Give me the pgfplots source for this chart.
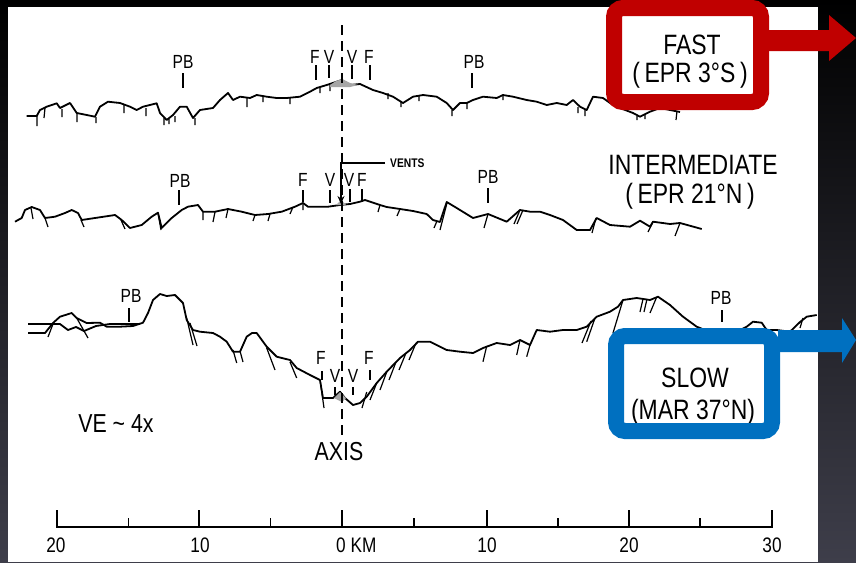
\documentclass[border=0pt]{standalone}
\usepackage{fontspec}
\setmainfont{Liberation Sans}[FakeStretch=0.82]
\usepackage{pgfplots}
\pgfplotsset{compat=1.18}
\usetikzlibrary{arrows.meta}
\definecolor{boxred}{RGB}{192,0,0}
\definecolor{boxblue}{RGB}{0,112,192}
\definecolor{bgmid}{RGB}{36,36,44}
\definecolor{bgbot}{RGB}{62,62,74}
\newcommand{\fs}[1]{\fontsize{#1}{#1}\selectfont}
\tikzset{lab/.style={font=\fs{19}, inner sep=0pt}, big/.style={font=\fs{28}, inner sep=0pt}}
\begin{document}
\begin{tikzpicture}
% background (dark slide) and white page
\shade[top color=black, middle color=bgmid, bottom color=bgbot] (0,0) rectangle (856pt,562pt);
\fill[white] (8pt,0) rectangle (818pt,555pt);
\begin{axis}[at={(0,0)}, anchor=south west, scale only axis, width=856pt, height=562pt,
  xmin=0, xmax=856, ymin=0, ymax=562, y dir=reverse, hide axis, clip=false,
  unbounded coords=jump,
  prof/.style={black, line width=1.8pt, no marks, line join=round},
  scarp/.style={black, line width=1.2pt, no marks},
  tick/.style={black, line width=1.3pt, no marks}]
% ---------------- FAST profile (EPR 3S) ----------------
\addplot[prof] coordinates {(26.7,116)(36.7,116)(40,110)(46.7,106.7)(56.7,103.3)(60,108)(70,103)(76.7,113)(86.7,115)(95,116.7)(100,106.7)(108,101.7)(120,103)(130,106.7)(136.7,110)(143,106.7)(156.7,103.3)(160,113)(166.7,120)(173,115)(180,106.7)(186.7,106.7)(193,118)(200,110)(213,108)(220,100)(228,93)(233,100)(240,96.7)(250,98)(256.7,95)(266.7,96.7)(276.7,98)(286.7,98)(300,96.7)(310,91.7)(316.7,88)(326.7,85)(336.7,81.7)(341.7,80)(350,85)(360,84)(373,90)(383,93)(393,96.7)(403,103)(413,96.7)(423,95)(436.7,96.7)(446.7,103)(453,110)(460,103)(466.7,103)(473,100)(483,96.7)(496.7,98)(503,95)(513,96.7)(526.7,100)(536.7,101.7)(546.7,105)(556.7,103)(566.7,105)(573,100)(580,106.7)(586.7,110)(593,96.7)(603,98)(610,103)(620,108)(633,113)(640,116.7)(650,111.7)(660,108)(670,110)(680,112)};
\addplot[scarp] coordinates {(37,116)(37,126)(37,nan)(45,108)(44,118)(44,nan)(62,109)(62,117)(62,nan)(77,113)(77,122)(77,nan)(96,117)(96,123)(96,nan)(124,104)(124,113)(124,nan)(146,108)(146,116)(146,nan)(164,118)(164,125)(164,nan)(169,119)(169,124)(169,nan)(175,116)(175,122)(175,nan)(195,118)(195,125)(195,nan)(247,98)(247,107)(247,nan)(263,97)(263,102)(263,nan)(290,98)(290,104)(290,nan)(320,87)(320,93)(320,nan)(330,85)(330,91)(330,nan)(388,93)(388,99)(388,nan)(401,101)(401,107)(401,nan)(419,96)(419,101)(419,nan)(452,110)(452,116)(452,nan)(467,103)(467,109)(467,nan)(503,95)(503,100)(503,nan)(578,107)(578,113)(578,nan)(585,110)(585,116)(585,nan)(637,116)(637,120)(637,nan)(645,114)(645,119)(645,nan)(677,111)(676,120)};
\addplot[fill=gray!70, draw=none] coordinates {(330,85)(336,81)(342,79)(350,83)(358,85)(350,87)(340,87)(330,87)} -- cycle;
% ---------------- INTERMEDIATE profile (EPR 21N) ----------------
\addplot[prof] coordinates {(15,221.7)(21.7,218)(25,210)(31.7,207)(40,210)(45,218)(55,216.7)(65,213)(71.7,210)(78,213)(81.7,220)(95,218)(115,215)(121.7,220)(130,228)(141.7,225)(151.7,216.7)(158,212.7)(161.7,228)(171.7,218)(181.7,210)(188,206.7)(198,205)(203,211.7)(215,211.7)(228,209)(241.7,211.7)(255,215)(268,214)(281.7,211.7)(295,206.7)(303,203)(308,206.7)(328,206.7)(340,205)(350,204)(360,201.7)(365,200)(380,205)(386.7,207)(400,209)(413,211)(426.7,214)(433,220)(440,222)(446.7,202)(456.7,208)(473,218)(488,214)(506.7,221.7)(520,210)(530,211.7)(540,211.7)(550,215)(563,220)(576.7,230)(590,230)(596.7,218)(610,225)(630,226.7)(640,220.7)(650,226.7)(653,221.7)(670,224)(680,223)(701.7,229)};
\addplot[scarp] coordinates {(31,208)(33,219)(33,nan)(45,218)(48,227)(48,nan)(81,220)(84,227)(84,nan)(121,220)(125,229)(125,nan)(158,213)(161,230)(161,nan)(203,212)(203,220)(203,nan)(215,212)(213,222)(213,nan)(228,209)(226,218)(226,nan)(255,215)(253,221)(253,nan)(270,214)(268,221)(268,nan)(293,207)(290,214)(290,nan)(303,203)(303,210)(303,nan)(380,205)(378,212)(378,nan)(400,209)(397,216)(397,nan)(437,221)(434,228)(434,nan)(447,203)(440,230)(440,nan)(488,214)(484,228)(484,nan)(520,210)(514,224)(514,nan)(523,210)(517,224)(517,nan)(596,218)(592,233)(592,nan)(653,222)(648,232)(648,nan)(680,223)(675,236)};
\addplot[fill=gray!70, draw=none] coordinates {(336,205)(341,200)(346,205)} -- cycle;
% ---------------- SLOW profile (MAR 37N) ----------------
\addplot[prof] coordinates {(28,333)(45,333)(53,323)(60,316.7)(71.7,313)(76.7,318)(86.7,323)(100,322.7)(106.7,326.7)(120,326.7)(133,326)(143,322.7)(148,313)(153,300)(160,294)(166.7,296)(175,295)(183,303)(186.7,320)(193,330)(200,331.7)(213,333)(220,336.7)(226.7,341.7)(233,351.7)(240,351.7)(246.7,336.7)(252,333)(256.7,333)(266.7,346.7)(276.7,356.7)(290,360)(296.7,368)(310,375)(320,380)(323,398)(333,398)(340,391.7)(345,398)(353,405)(360,403)(366.7,396.7)(376.7,383)(386.7,371.7)(400,358)(410,350)(418,341.7)(430,341.7)(440,346.7)(446.7,350)(460,351.7)(473,353)(483,348)(496.7,343)(510,345)(520,340)(530,345)(536.7,330)(550,331.7)(563,330)(576.7,330)(586.7,326.7)(596.7,316.7)(610,311.7)(618,306.7)(623,300)(636.7,298)(650,300)(658,296.7)(670,305)(683,316.7)(696.7,326.7)(710,332)(725,334)(740,330)(746.7,326.7)(753,321.7)(761.7,322.7)(766.7,330)(776.7,330)(790,331.7)(800,322)(806.7,316.7)(816.7,315)};
\addplot[prof] coordinates {(28,324)(60,324)(68,330)(76,327)(84,331)(96,326)(110,324)(140,324)};
\addplot[scarp] coordinates {(53,324)(48,337)(48,nan)(76.7,318)(88,338)(88,nan)(186.7,318)(193,345)(193,nan)(190,323)(197,346)(197,nan)(233,350)(236.7,363)(236.7,nan)(240,351)(243,362)(243,nan)(266.7,348)(275,370)(275,nan)(290,362)(296.7,378)(296.7,nan)(320,380)(324,408)(324,nan)(366.7,392)(362,408)(362,nan)(376.7,383)(370,400)(370,nan)(386.7,372)(380,390)(380,nan)(396,362)(389,380)(389,nan)(406,353)(399,370)(399,nan)(416,343)(409,360)(409,nan)(486.7,346)(483,361.7)(483,nan)(520,340)(516.7,355)(516.7,nan)(530,345)(526.7,356.7)(526.7,nan)(595,318)(586.7,341.7)(586.7,nan)(591,321)(582,343)(582,nan)(623,300)(613,333)(613,nan)(643,299)(640,312)(640,nan)(647,299)(644,312)(644,nan)(656.7,297)(650,313)(650,nan)(803,318)(800,328)};
\addplot[fill=gray!70, draw=none] coordinates {(334,398)(340,392)(346,398)(342,402)} -- cycle;
% ---------------- axis line ----------------
\addplot[black, line width=1.3pt, dash pattern=on 10pt off 6pt, no marks] coordinates {(342,25)(342,437)};
% ---------------- marker ticks ----------------
\addplot[tick] coordinates {(183,73)(183,88)(183,nan)(316,65)(316,80)(316,nan)(329,65)(329,78)(329,nan)(352,65)(352,79)(352,nan)(370,65)(370,80)(370,nan)(472,73)(472,88)};
\addplot[tick] coordinates {(179,190)(179,205)(179,nan)(303,190)(303,202)(303,nan)(330,190)(330,203)(330,nan)(350,189)(350,202)(350,nan)(362,189)(362,202)(362,nan)(488,188)(488,203)};
\addplot[tick] coordinates {(129,308)(129,322)(129,nan)(322,371)(322,380)(322,nan)(335,387)(335,395)(335,nan)(353,387)(353,395)(353,nan)(370,370)(370,380)(370,nan)(722,310)(722,322)};
\addplot[tick, -{Stealth[length=8pt,width=7pt]}] coordinates {(385,163)(341,163)(341,204)};
% ---------------- scale bar ----------------
\addplot[black, line width=1.4pt, no marks] coordinates {(57,510)(57,527)(772,527)(772,510)};
\addplot[black, line width=1.4pt, no marks] coordinates {(128.5,527)(128.5,518)(128.5,nan)(199,527)(199,510)(199,nan)(270.5,527)(270.5,518)(270.5,nan)(342,527)(342,510)(342,nan)(414,527)(414,518)(414,nan)(487,527)(487,510)(487,nan)(558,527)(558,518)(558,nan)(629,527)(629,510)(629,nan)(700,527)(700,518)};
% ---------------- texts ----------------
\node[lab] at (axis cs:183,62) {PB};
\node[lab] at (axis cs:474,62) {PB};
\node[lab] at (axis cs:315,57) {F};
\node[lab] at (axis cs:329,57) {V};
\node[lab] at (axis cs:352,57) {V};
\node[lab] at (axis cs:369,57) {F};
\node[lab] at (axis cs:180,181) {PB};
\node[lab] at (axis cs:488,177) {PB};
\node[lab] at (axis cs:303,180) {F};
\node[lab] at (axis cs:330,180) {V};
\node[lab] at (axis cs:349,180) {V};
\node[lab] at (axis cs:362,180) {F};
\node[font=\fs{12.5}\bfseries, anchor=west, inner sep=0pt] at (axis cs:390,163) {VENTS};
\node[lab] at (axis cs:131,296) {PB};
\node[lab] at (axis cs:721,298) {PB};
\node[lab] at (axis cs:321,358) {F};
\node[lab] at (axis cs:335,376) {V};
\node[lab] at (axis cs:353,376) {V};
\node[lab] at (axis cs:369,358) {F};
\node[big] at (axis cs:693,165) {INTERMEDIATE};
\node[big] at (axis cs:690,196) {(\,EPR 21°N\,)};
\node[big] at (axis cs:692,45) {FAST};
\node[big] at (axis cs:690,75) {(\,EPR 3°S\,)};
\node[big] at (axis cs:695,378) {SLOW};
\node[big] at (axis cs:693,412) {(MAR 37°N)};
\node[font=\fs{26}, inner sep=0pt] at (axis cs:116,424) {VE \textasciitilde{} 4x};
\node[font=\fs{26}, inner sep=0pt] at (axis cs:339,452) {AXIS};
\node[font=\fs{21}, inner sep=0pt] at (axis cs:56,545) {20};
\node[font=\fs{21}, inner sep=0pt] at (axis cs:200,545) {10};
\node[font=\fs{21}, anchor=west, inner sep=0pt] at (axis cs:336,545) {0 KM};
\node[font=\fs{21}, inner sep=0pt] at (axis cs:487,545) {10};
\node[font=\fs{21}, inner sep=0pt] at (axis cs:629,545) {20};
\node[font=\fs{21}, inner sep=0pt] at (axis cs:772,545) {30};
% ---------------- highlight boxes and arrows ----------------
\draw[boxred, line width=16pt, rounded corners=9pt] (axis cs:614,8) rectangle (axis cs:761,102);
\fill[boxred] (axis cs:766,30) -- (axis cs:829,30) -- (axis cs:829,15) -- (axis cs:856,38) -- (axis cs:829,61) -- (axis cs:829,51) -- (axis cs:766,51) -- cycle;
\draw[boxblue, line width=16pt, rounded corners=9pt] (axis cs:616,336) rectangle (axis cs:772,431);
\fill[boxblue] (axis cs:778,330) -- (axis cs:842,330) -- (axis cs:842,318) -- (axis cs:856,340) -- (axis cs:842,363) -- (axis cs:842,352) -- (axis cs:778,352) -- cycle;
\end{axis}
\end{tikzpicture}
\end{document}
